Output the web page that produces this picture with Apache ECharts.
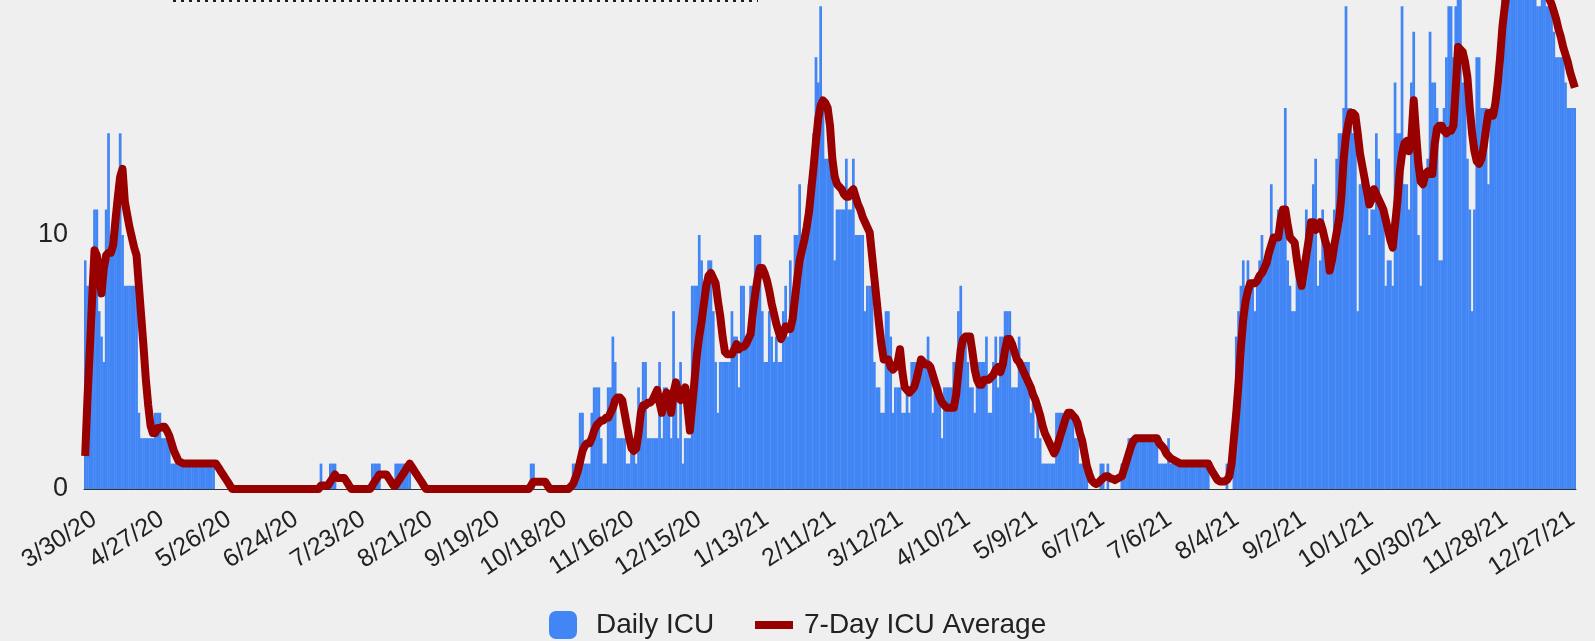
<!DOCTYPE html>
<html>
<head>
<meta charset="utf-8">
<script src="https://cdn.jsdelivr.net/npm/echarts@6/dist/echarts.min.js"></script>
<style>
html,body{margin:0;padding:0;background:#efefef;}
#chart{width:1595px;height:641px;}
</style>
</head>
<body>
<div id="chart"></div>
<script>
// Tick labels shown every 29 days along the x axis
const tickLabels = ["3/30/20","4/27/20","5/26/20","6/24/20","7/23/20","8/21/20","9/19/20","10/18/20","11/16/20","12/15/20","1/13/21","2/11/21","3/12/21","4/10/21","5/9/21","6/7/21","7/6/21","8/4/21","9/2/21","10/1/21","10/30/21","11/28/21","12/27/21"];

// Daily ICU counts (one per day)
const dailyICU = [
9,8,8,8,11,11,7,6,5,11,
14,10,10,11,12,14,10,8,8,8,
8,8,8,3,2,2,2,2,2,2,
3,3,3,2,2,2,2,1,1,1,
1,1,1,1,1,1,1,1,1,1,
1,1,1,1,1,1,0,0,0,0,
0,0,0,0,0,0,0,0,0,0,
0,0,0,0,0,0,0,0,0,0,
0,0,0,0,0,0,0,0,0,0,
0,0,0,0,0,0,0,0,0,0,
0,1,0,0,0,1,1,1,0,0,
0,0,0,0,0,0,0,0,0,0,
0,0,0,1,1,1,1,0,0,0,
0,0,0,1,1,1,1,1,1,1,
0,0,0,0,0,0,0,0,0,0,
0,0,0,0,0,0,0,0,0,0,
0,0,0,0,0,0,0,0,0,0,
0,0,0,0,0,0,0,0,0,0,
0,0,0,0,0,0,0,0,0,0,
0,1,1,0,0,0,0,0,0,0,
0,0,0,0,0,0,0,0,0,1,
1,1,3,3,1,1,1,3,4,4,
4,2,1,1,4,4,6,5,2,2,
2,2,1,1,2,2,1,4,3,5,
5,2,2,2,2,2,5,2,4,4,
3,2,7,4,2,5,1,2,2,2,
8,8,8,10,9,7,8,9,9,7,
5,3,5,5,5,5,5,7,6,6,
4,8,8,6,6,8,8,10,10,10,
7,5,5,7,6,5,6,5,5,7,
8,6,9,7,10,10,12,10,10,11,
12,12,14,17,16,19,15,13,13,13,
13,9,11,11,11,11,13,11,11,13,
10,10,10,10,7,8,8,8,5,4,
4,3,3,7,7,6,3,4,4,4,
3,3,4,3,5,5,5,5,5,5,
5,6,5,3,4,4,4,2,4,4,
4,4,5,5,7,8,6,6,5,4,
4,3,5,5,5,5,6,3,3,5,
6,4,6,6,7,7,7,4,4,4,
6,5,5,5,5,3,4,2,3,2,
1,1,1,1,1,1,3,3,3,3,
3,3,3,3,2,2,1,1,1,1,
0,0,0,0,0,1,1,0,1,0,
0,0,0,0,1,1,1,2,2,2,
2,2,2,2,2,2,2,2,2,2,
1,1,1,1,2,1,1,1,1,1,
1,1,1,1,1,1,1,1,1,1,
1,1,0,0,0,0,0,0,0,1,
0,0,3,6,7,8,9,8,9,8,
8,7,8,9,10,9,9,9,12,10,
10,11,11,11,15,9,8,7,7,9,
9,9,9,11,10,10,12,13,8,9,
11,10,9,9,9,11,13,14,14,15,
19,15,15,14,14,7,12,13,12,12,
10,11,11,14,13,11,11,8,9,9,
8,16,14,14,19,12,12,11,16,18,
13,10,8,12,12,13,18,16,16,15,
9,9,15,17,19,19,17,19,20,21,
16,16,13,11,7,11,17,17,15,15,
15,12,15,15,15,17,17,20,21,22,
21,23,22,21,22,23,22,21,22,21,
22,20,19,19,21,20,19,19,19,18,
17,17,17,17,16,15,15,15,15
];

// 7-day ICU average (one per day)
const avgICU = [
1.3,3.6,5.5,7.5,9.4,9.2,8.4,7.7,8.7,9.2,
9.3,9.3,9.6,10.6,11.5,12.3,12.6,11.3,10.8,10.3,
9.9,9.5,9.2,8.0,6.8,5.6,4.3,3.3,2.5,2.2,
2.2,2.4,2.4,2.45,2.45,2.3,2.1,1.8,1.5,1.3,
1.1,1.05,1,1,1,1,1,1,1,1,
1,1,1,1,1,1,1,0.86,0.71,0.57,
0.43,0.29,0.14,0,0,0,0,0,0,0,
0,0,0,0,0,0,0,0,0,0,
0,0,0,0,0,0,0,0,0,0,
0,0,0,0,0,0,0,0,0,0,
0,0.14,0.14,0.14,0.14,0.29,0.43,0.57,0.43,0.43,
0.43,0.43,0.29,0.14,0,0,0,0,0,0,
0,0,0,0.14,0.29,0.43,0.57,0.57,0.57,0.57,
0.43,0.29,0.14,0.14,0.29,0.43,0.57,0.71,0.86,1,
0.86,0.71,0.57,0.43,0.29,0.14,0,0,0,0,
0,0,0,0,0,0,0,0,0,0,
0,0,0,0,0,0,0,0,0,0,
0,0,0,0,0,0,0,0,0,0,
0,0,0,0,0,0,0,0,0,0,
0,0.14,0.29,0.29,0.29,0.29,0.29,0.29,0.14,0,
0,0,0,0,0,0,0,0,0.1,0.2,
0.45,0.7,1.1,1.5,1.7,1.8,1.8,2.0,2.3,2.5,
2.6,2.7,2.7,2.8,2.8,3.0,3.2,3.5,3.6,3.6,
3.5,3.0,2.5,2.0,1.6,1.5,1.6,2.2,3.0,3.3,
3.3,3.4,3.4,3.5,3.7,3.9,3.4,3.0,3.5,3.8,
3.4,3.0,3.8,4.2,3.8,3.5,3.8,4.0,3.2,2.3,
3.3,4.3,5.3,6.0,6.6,7.3,8.0,8.4,8.5,8.3,
8.1,7.4,6.8,6.0,5.4,5.3,5.3,5.3,5.5,5.7,
5.5,5.6,5.6,5.7,5.9,6.1,7.0,7.7,8.3,8.7,
8.7,8.5,8.2,7.8,7.3,6.9,6.5,6.2,5.9,6.1,
6.4,6.3,6.3,6.7,7.5,8.3,9.0,9.4,9.8,10.3,
10.9,11.8,12.7,13.7,14.6,15.1,15.3,15.2,15.0,14.3,
13.0,12.3,12.0,11.9,11.8,11.6,11.5,11.5,11.7,11.8,
11.5,11.2,11.0,10.7,10.5,10.3,10.1,9.2,8.3,7.4,
6.5,5.7,5.1,5.1,5.1,4.8,4.7,4.8,5.0,5.5,
4.6,4.0,3.9,3.8,3.9,4.0,4.3,4.7,5.1,5.0,
4.9,4.9,4.8,4.5,4.2,3.9,3.6,3.4,3.3,3.2,
3.2,3.2,3.2,3.7,4.6,5.5,5.9,6.0,6.0,6.0,
5.4,4.7,4.3,4.1,4.1,4.3,4.3,4.3,4.4,4.5,
4.7,4.8,4.6,4.9,5.5,5.9,5.9,5.7,5.4,5.1,
5.0,4.8,4.6,4.4,4.2,4.0,3.7,3.5,3.2,2.9,
2.5,2.2,2.0,1.8,1.6,1.4,1.6,1.9,2.2,2.5,
2.8,3.0,3.0,2.9,2.8,2.6,2.2,1.9,1.4,0.9,
0.6,0.35,0.25,0.2,0.25,0.35,0.43,0.5,0.5,0.43,
0.4,0.35,0.4,0.45,0.5,0.8,1.1,1.4,1.7,1.9,
2,2,2,2,2,2,2,2,2,2,
1.8,1.7,1.6,1.4,1.3,1.2,1.15,1.1,1.05,1.0,
1,1,1,1,1,1,1,1,1,1,
1,1,0.8,0.65,0.5,0.35,0.3,0.3,0.3,0.35,
0.5,1.0,2.0,3.0,4.2,5.6,6.7,7.4,7.8,8.1,
8.1,8.1,8.2,8.4,8.5,8.7,8.9,9.3,9.6,9.9,
9.9,9.9,10.6,11.0,11.0,10.4,9.9,9.8,9.7,9.0,
8.4,8.0,8.6,9.2,9.8,10.5,10.5,10.2,10.3,10.5,
10.2,9.8,9.5,8.6,9.0,9.6,10.1,10.6,11.5,13.0,
13.9,14.4,14.8,14.8,14.7,14.0,13.2,12.7,12.2,11.7,
11.2,11.4,11.8,11.6,11.4,11.2,11.0,10.6,10.2,9.8,
9.5,10.4,11.3,12.5,13.2,13.6,13.7,13.3,13.8,15.3,
14.0,12.8,12.1,12.0,12.4,12.5,12.4,12.4,13.6,14.2,
14.3,14.3,14.1,14.0,14.1,14.1,14.3,15.8,17.4,17.3,
17.2,16.8,16.2,15.0,14.0,13.3,12.9,12.8,13.0,13.5,
14.2,14.8,14.8,14.7,15.2,16.0,17.0,18.2,19.0,19.6,
20.2,20.6,21.0,21.3,21.5,21.6,21.5,21.3,21.0,20.8,
20.5,20.3,20.1,20.0,19.9,19.7,19.5,19.3,19.1,18.8,
18.5,18.1,17.8,17.4,17.1,16.8,16.4,16.1,15.8
];

// Day slots: one per bar for the data axis
const categories = dailyICU.map((_, i) => 'd' + i);
// Label slots for the date axis (labels sit every 29 slots, starting at slot 4)
const LABEL_SLOTS = 644, LABEL_START = 4, LABEL_STEP = 29;
const labelSlots = Array.from({ length: LABEL_SLOTS }, (_, i) => 's' + i);

const FONT = "'Liberation Sans', Arial, sans-serif";
const chart = echarts.init(document.getElementById('chart'));
chart.setOption({
  animation: false,
  backgroundColor: '#efefef',
  grid: { left: 84, right: 19, top: 0, bottom: 152, containLabel: false },
  xAxis: [
    {
      type: 'category',
      data: categories,
      boundaryGap: true,
      axisTick: { show: false },
      axisLine: { show: true, lineStyle: { color: '#333', width: 1 } },
      axisLabel: { show: false },
      splitLine: { show: false }
    },
    {
      type: 'category',
      data: labelSlots,
      position: 'bottom',
      boundaryGap: true,
      axisTick: { show: false },
      axisLine: { show: false },
      splitLine: { show: false },
      axisLabel: {
        interval: (i) => i >= LABEL_START && (i - LABEL_START) % LABEL_STEP === 0,
        rotate: 33,
        margin: 28,
        fontSize: 25,
        color: '#222',
        fontFamily: FONT,
        formatter: (v, i) => tickLabels[(i - LABEL_START) / LABEL_STEP] || ''
      }
    }
  ],
  yAxis: {
    type: 'value',
    min: 0,
    max: 19.25,
    interval: 10,
    axisLine: { show: false },
    axisTick: { show: false },
    splitLine: { show: false },
    axisLabel: { fontSize: 27, color: '#222', fontFamily: FONT, margin: 16, padding: [6, 0, 0, 0], showMaxLabel: false }
  },
  legend: [
    {
      data: [{ name: 'Daily ICU', icon: 'roundRect' }],
      left: 549, top: 611, padding: 0,
      itemWidth: 28, itemHeight: 28,
      textStyle: { fontSize: 28, color: '#222', fontFamily: FONT, padding: [0, 0, 0, 14] }
    },
    {
      data: [{ name: '7-Day ICU Average', icon: 'rect' }],
      left: 755, top: 611, padding: 0,
      itemWidth: 38, itemHeight: 8,
      textStyle: { fontSize: 28, color: '#222', fontFamily: FONT, padding: [0, 0, 0, 6] }
    }
  ],
  graphic: [{
    type: 'line',
    shape: { x1: 173, y1: 1, x2: 758, y2: 1 },
    style: { stroke: '#222', lineWidth: 2, lineDash: [3, 5] },
    silent: true
  }],
  series: [
    {
      name: 'Daily ICU',
      type: 'bar',
      xAxisIndex: 0,
      data: dailyICU,
      barWidth: 2.7,
      itemStyle: { color: '#4285f4' },
      clip: true
    },
    {
      name: '7-Day ICU Average',
      type: 'line',
      xAxisIndex: 0,
      data: avgICU,
      symbol: 'none',
      showSymbol: false,
      clip: true,
      z: 3,
      itemStyle: { color: '#990000' },
      lineStyle: { color: '#990000', width: 8, join: 'round' }
    }
  ]
});
</script>
</body>
</html>
